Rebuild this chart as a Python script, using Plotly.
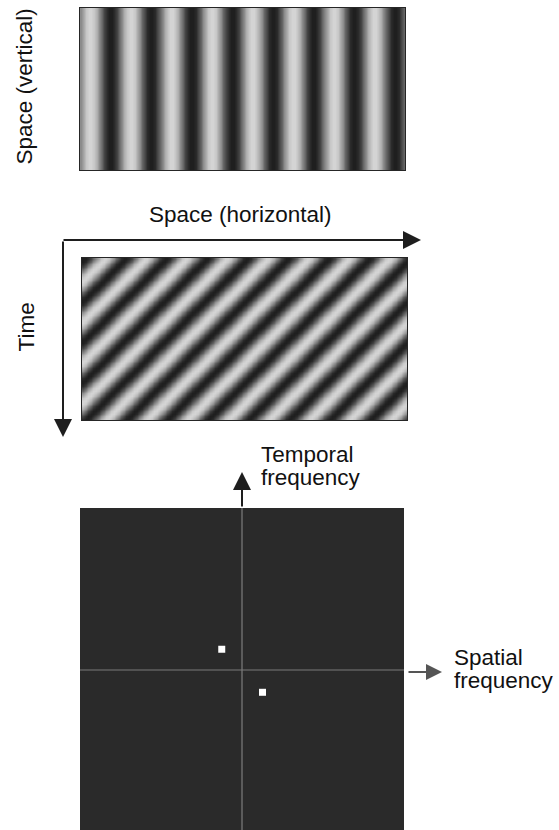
import plotly.graph_objects as go

W, H = 559, 830

# ---- data ----
# luminance of one grating cycle (0 = black, 1 = white), 16 samples
grating_profile = [0.55, 0.68, 0.78, 0.83, 0.83, 0.78, 0.68, 0.55,
                   0.40, 0.27, 0.17, 0.12, 0.12, 0.17, 0.27, 0.40]
top_cycles = 8            # cycles across the space-space image
mid_cycles_space = 8      # cycles across the space-time image
mid_cycles_time = 4       # cycles down the space-time image
mid_phase_shift = -5      # samples

# spectrum peaks (frequency units, FFT bins)
spatial_freq = [-8.0, 8.1]
temporal_freq = [8.2, -8.8]
freq_range_x = [-64, 64]
freq_range_y = [-63.2, 64]

label_space_v = "Space (vertical)"
label_space_h = "Space (horizontal)"
label_time = "Time"
label_temporal = ["Temporal", "frequency"]
label_spatial = ["Spatial", "frequency"]

# ---- build grids ----
S = len(grating_profile)
top_x = [(c + 0.5) / S for c in range(top_cycles * S)]
top_y = [0.25, 0.75]
top_z = [[grating_profile[c % S] for c in range(top_cycles * S)] for _ in top_y]

mid_x = [(c + 0.5) / S for c in range(mid_cycles_space * S)]
mid_y = [(r + 0.5) / S for r in range(mid_cycles_time * S)]
mid_z = [[grating_profile[(c + r + mid_phase_shift) % S]
          for c in range(mid_cycles_space * S)]
         for r in range(mid_cycles_time * S)]


def px(x):
    return x / W


def py(y):
    return 1 - y / H


gray = [[0, "#000000"], [1, "#ffffff"]]
fig = go.Figure()
fig.add_trace(go.Heatmap(x=top_x, y=top_y, z=top_z, colorscale=gray, zmin=0, zmax=1,
                         zsmooth="best", showscale=False, hoverinfo="skip",
                         xaxis="x", yaxis="y"))
fig.add_trace(go.Heatmap(x=mid_x, y=mid_y, z=mid_z, colorscale=gray, zmin=0, zmax=1,
                         zsmooth="best", showscale=False, hoverinfo="skip",
                         xaxis="x2", yaxis="y2"))
fig.add_trace(go.Scatter(x=spatial_freq, y=temporal_freq, mode="markers",
                         marker=dict(symbol="square", size=7, color="#ffffff",
                                     line=dict(width=0)),
                         hoverinfo="skip", xaxis="x3", yaxis="y3"))

hidden = dict(showticklabels=False, showgrid=False, zeroline=False, ticks="")
framed = dict(hidden, showline=True, mirror=True, linecolor="#262626", linewidth=1)

fig.update_layout(
    width=W, height=H, margin=dict(l=0, r=0, t=0, b=0),
    paper_bgcolor="#ffffff", plot_bgcolor="#ffffff", showlegend=False,
    font=dict(family="Liberation Sans, Arial, sans-serif", size=22.5, color="#111111"),
    xaxis=dict(framed, domain=[px(80), px(405)], range=[0, top_cycles]),
    yaxis=dict(framed, domain=[py(170), py(8)], range=[0, 1]),
    xaxis2=dict(framed, domain=[px(82), px(407)], range=[0, mid_cycles_space], anchor="y2"),
    yaxis2=dict(framed, domain=[py(420), py(258)], range=[mid_cycles_time, 0], anchor="x2"),
    xaxis3=dict(hidden, domain=[px(80), px(404)], range=freq_range_x, anchor="y3"),
    yaxis3=dict(hidden, domain=[py(830), py(508)], range=freq_range_y, anchor="x3"),
)

fig.add_shape(type="rect", xref="x3", yref="y3", x0=freq_range_x[0], x1=freq_range_x[1],
              y0=freq_range_y[0], y1=freq_range_y[1], fillcolor="#2a2a2a",
              line=dict(width=0), layer="below")
fig.add_shape(type="line", xref="x3", yref="y3", x0=0, x1=0,
              y0=freq_range_y[0], y1=freq_range_y[1], line=dict(color="#8c8c8c", width=1),
              layer="below")
fig.add_shape(type="line", xref="x3", yref="y3", x0=freq_range_x[0], x1=freq_range_x[1],
              y0=0, y1=0, line=dict(color="#7a7a7a", width=1), layer="below")


def arrow(x_head, y_head, x_tail, y_tail, color="#1e1e1e", size=1.8):
    fig.add_annotation(x=px(x_head), y=py(y_head), xref="paper", yref="paper",
                       ax=x_tail - x_head, ay=y_tail - y_head, text="",
                       showarrow=True, arrowhead=2, arrowsize=size, arrowwidth=2,
                       arrowcolor=color, standoff=0, startstandoff=0)


arrow(421, 240, 62, 240)
arrow(63, 437, 63, 240)
arrow(242, 472, 242, 508)
arrow(442, 672, 407, 672, color="#555555", size=1.6)


def label(text, x, y, xanchor="center", angle=0):
    fig.add_annotation(x=px(x), y=py(y), xref="paper", yref="paper", text=text,
                       showarrow=False, xanchor=xanchor, yanchor="middle",
                       textangle=angle)


label(label_space_v, 23.5, 87, angle=-90)
label(label_time, 25.5, 327, angle=-90)
label(label_space_h, 240, 214.5)
label(label_temporal[0], 259, 454.5, xanchor="left")
label(label_temporal[1], 259, 477.5, xanchor="left")
label(label_spatial[0], 452, 657.5, xanchor="left")
label(label_spatial[1], 452, 680.5, xanchor="left")

fig.write_html("out.html",
               config={"displayModeBar": False, "staticPlot": True},
               post_script="document.body.style.margin='0px';"
                           "document.body.style.overflow='hidden';")
